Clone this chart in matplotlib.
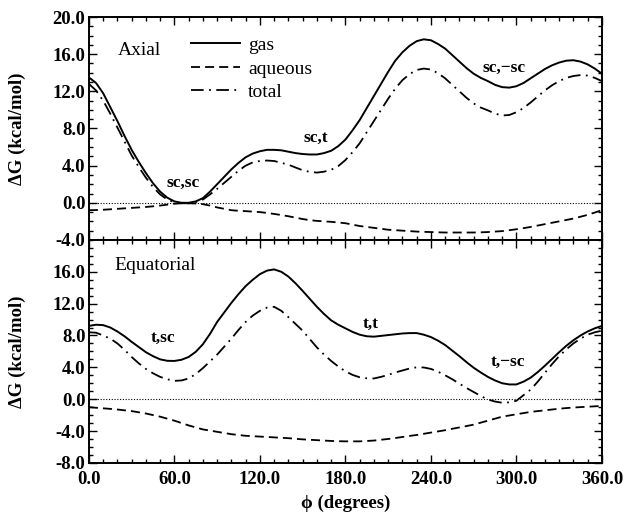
import matplotlib
matplotlib.use("Agg")
from matplotlib import pyplot as plt
from matplotlib.ticker import MultipleLocator, FixedLocator
import numpy as np

# torsion angle grid (degrees)
phi = list(range(0, 361, 5))

# Axial conformer free energies (kcal/mol)
axial_gas = [13.5, 12.9, 11.8, 10.3, 8.8, 7.2, 5.7, 4.4, 3.2, 2.1,
             1.2, 0.55, 0.15, 0.0, 0.0, 0.15, 0.5, 1.2, 2.0, 2.8,
             3.6, 4.3, 4.9, 5.3, 5.55, 5.7, 5.7, 5.65, 5.5, 5.35,
             5.25, 5.2, 5.2, 5.35, 5.6, 6.1, 6.8, 7.8, 8.9, 10.2,
             11.5, 12.8, 14.1, 15.3, 16.2, 16.9, 17.4, 17.6, 17.5, 17.1,
             16.6, 15.9, 15.2, 14.5, 13.9, 13.45, 13.1, 12.7, 12.45, 12.4,
             12.55, 12.9, 13.4, 13.9, 14.4, 14.8, 15.1, 15.3, 15.35, 15.2,
             14.9, 14.45, 13.9]
axial_aq = [-0.8, -0.78, -0.75, -0.7, -0.65, -0.6, -0.55, -0.5, -0.45, -0.38,
            -0.3, -0.2, -0.1, -0.05, -0.05, -0.08, -0.15, -0.3, -0.5, -0.65,
            -0.8, -0.86, -0.9, -0.95, -1.0, -1.1, -1.2, -1.32, -1.45, -1.6,
            -1.75, -1.87, -1.95, -2.0, -2.05, -2.12, -2.2, -2.35, -2.5, -2.6,
            -2.7, -2.8, -2.9, -2.95, -3.0, -3.05, -3.1, -3.13, -3.15, -3.18,
            -3.2, -3.2, -3.2, -3.2, -3.2, -3.18, -3.15, -3.1, -3.05, -2.95,
            -2.85, -2.73, -2.6, -2.45, -2.3, -2.15, -2.0, -1.85, -1.7, -1.5,
            -1.3, -1.05, -0.8]
axial_tot = [12.8, 12.1, 11.0, 9.6, 8.1, 6.6, 5.1, 3.85, 2.7, 1.7,
             0.9, 0.35, 0.05, -0.05, -0.05, 0.07, 0.35, 0.9, 1.5, 2.15,
             2.8, 3.45, 4.0, 4.35, 4.5, 4.55, 4.5, 4.3, 4.1, 3.8,
             3.5, 3.33, 3.25, 3.35, 3.55, 3.95, 4.6, 5.45, 6.4, 7.6,
             8.8, 10.0, 11.2, 12.3, 13.2, 13.85, 14.3, 14.45, 14.35, 13.95,
             13.4, 12.7, 12.0, 11.3, 10.7, 10.25, 9.95, 9.6, 9.4, 9.45,
             9.75, 10.2, 10.8, 11.45, 12.1, 12.65, 13.1, 13.45, 13.65, 13.75,
             13.7, 13.45, 13.1]

# Equatorial conformer free energies (kcal/mol)
equat_gas = [9.2, 9.35, 9.3, 9.0, 8.5, 7.9, 7.2, 6.55, 5.9, 5.4,
             5.0, 4.82, 4.8, 4.95, 5.3, 5.95, 6.9, 8.2, 9.7, 10.9,
             12.1, 13.2, 14.2, 15.0, 15.7, 16.15, 16.3, 16.0, 15.4, 14.55,
             13.6, 12.6, 11.6, 10.7, 9.9, 9.35, 8.9, 8.45, 8.1, 7.9,
             7.85, 7.95, 8.05, 8.15, 8.25, 8.3, 8.3, 8.1, 7.8, 7.35,
             6.8, 6.1, 5.4, 4.65, 3.95, 3.35, 2.8, 2.35, 2.0, 1.85,
             1.85, 2.2, 2.7, 3.4, 4.2, 5.05, 5.9, 6.7, 7.4, 8.0,
             8.5, 8.9, 9.2]
equat_aq = [-1.0, -1.08, -1.15, -1.22, -1.3, -1.4, -1.5, -1.65, -1.8, -2.0,
            -2.2, -2.45, -2.7, -3.0, -3.3, -3.55, -3.8, -3.95, -4.1, -4.25,
            -4.4, -4.5, -4.6, -4.65, -4.7, -4.75, -4.8, -4.85, -4.9, -4.98,
            -5.05, -5.1, -5.15, -5.2, -5.25, -5.28, -5.3, -5.3, -5.3, -5.25,
            -5.2, -5.1, -5.0, -4.88, -4.75, -4.62, -4.5, -4.35, -4.2, -4.05,
            -3.9, -3.72, -3.55, -3.38, -3.2, -2.95, -2.7, -2.45, -2.2, -2.05,
            -1.9, -1.75, -1.6, -1.5, -1.4, -1.3, -1.2, -1.12, -1.05, -1.0,
            -0.95, -0.9, -0.85]
equat_tot = [8.4, 8.35, 8.0, 7.6, 7.0, 6.2, 5.3, 4.5, 3.8, 3.25,
             2.8, 2.5, 2.3, 2.35, 2.6, 3.15, 3.9, 4.75, 5.6, 6.6,
             7.6, 8.7, 9.7, 10.5, 11.1, 11.5, 11.6, 11.1, 10.3, 9.45,
             8.6, 7.55, 6.5, 5.6, 4.8, 4.1, 3.5, 3.05, 2.75, 2.62,
             2.6, 2.8, 3.05, 3.35, 3.6, 3.85, 4.0, 3.98, 3.8, 3.45,
             3.0, 2.5, 1.95, 1.4, 0.9, 0.4, -0.05, -0.3, -0.45, -0.4,
             -0.2, 0.5, 1.2, 2.2, 3.3, 4.4, 5.4, 6.25, 7.0, 7.6,
             8.1, 8.4, 8.6]

# conformer labels: (text, phi, dG)
axial_labels = [("sc,sc", 66, 2.1), ("sc,t", 159, 7.0), ("sc,\u2212sc", 291, 14.5)]
equat_labels = [("t,sc", 52, 7.7), ("t,t", 198, 9.5), ("t,\u2212sc", 294, 4.65)]

plt.rcParams["font.family"] = ["Liberation Serif", "DejaVu Serif"]

fig = plt.figure(figsize=(6.26, 5.16), dpi=100)
ax1 = fig.add_axes([0.142, 0.535, 0.8195, 0.432])
ax2 = fig.add_axes([0.142, 0.103, 0.8195, 0.432])

solid = dict(color="k", lw=1.4, ls="-")
dashed = dict(color="k", lw=1.3, ls=(0, (5, 2.8)))
dashdot = dict(color="k", lw=1.3, ls=(0, (7, 3, 1, 3)))

for ax, gas, aq, tot in [(ax1, axial_gas, axial_aq, axial_tot),
                         (ax2, equat_gas, equat_aq, equat_tot)]:
    ax.axhline(0, color="k", lw=0.8, ls=(0, (1, 1.5)))
    ax.plot(phi, gas, label="gas", **solid)
    ax.plot(phi, aq, label="aqueous", **dashed)
    ax.plot(phi, tot, label="total", **dashdot)
    ax.set_xlim(0, 360)
    ax.xaxis.set_major_locator(MultipleLocator(60))
    ax.xaxis.set_minor_locator(MultipleLocator(10))
    ax.yaxis.set_minor_locator(MultipleLocator(1))
    ax.tick_params(which="both", direction="in", top=True, right=True,
                   labelsize=13.5, width=1.0)
    ax.tick_params(which="major", length=6)
    ax.tick_params(which="minor", length=3)
    ax.tick_params(axis="y", pad=2.5)
    ax.tick_params(axis="x", pad=6)
    for s in ax.spines.values():
        s.set_linewidth(1.4)
    ax.set_ylabel("\u0394G (kcal/mol)", fontsize=13.5, fontweight="bold")
    ax.yaxis.set_label_coords(-0.122, 0.5)

ax1.set_ylim(-4, 20)
ax1.yaxis.set_major_locator(FixedLocator(np.arange(-4, 21, 4)))
ax1.set_yticklabels(["%.1f" % v for v in np.arange(-4, 21, 4)], fontweight="bold")
ax1.tick_params(labelbottom=False)

ax2.set_ylim(-8, 20)
ax2.yaxis.set_major_locator(FixedLocator(np.arange(-8, 17, 4)))
ax2.set_yticklabels(["%.1f" % v for v in np.arange(-8, 17, 4)], fontweight="bold")
ax2.set_xticks(np.arange(0, 361, 60))
ax2.set_xticklabels(["%.1f" % v for v in np.arange(0, 361, 60)], fontweight="bold")
ax2.set_xlabel("\u03d5 (degrees)", fontsize=13.5, fontweight="bold", labelpad=5)

ax1.text(20, 16.4, "Axial", fontsize=14, va="center", ha="left")
ax2.text(18, 16.8, "Equatorial", fontsize=14, va="center", ha="left")

for txt, x, y in axial_labels:
    ax1.text(x, y, txt, fontsize=12.5, fontweight="bold", ha="center", va="center")
for txt, x, y in equat_labels:
    ax2.text(x, y, txt, fontsize=12.5, fontweight="bold", ha="center", va="center")

ax1.legend(loc="upper left", bbox_to_anchor=(0.2, 0.912), frameon=False,
           fontsize=14, handlelength=2.5, handletextpad=0.4,
           labelspacing=0.3, borderpad=0, borderaxespad=0)

fig.savefig("out.png", dpi=100)
